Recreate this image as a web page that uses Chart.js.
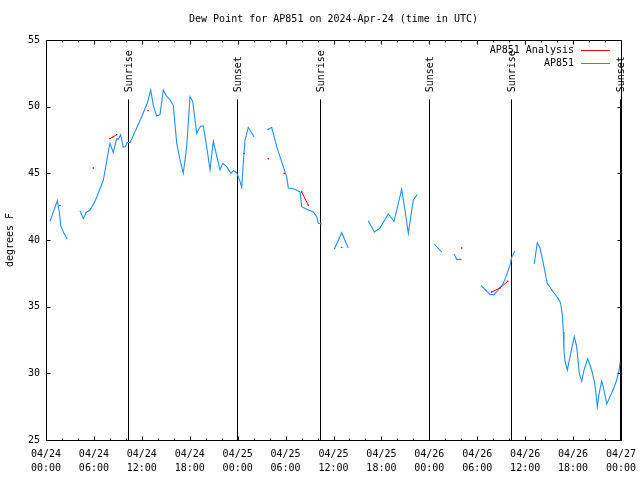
<!DOCTYPE html>
<html lang="en">
<head>
  <meta charset="UTF-8">
  <title>Dew Point for AP851</title>
  <script src="https://cdn.jsdelivr.net/npm/chart.js"></script>
  <style>
    body { margin: 0; background: #fff; }
    canvas { display: block; }
  </style>
</head>
<body>
  <canvas id="dewChart" width="640" height="480"></canvas>
  <script>
    // hours since 04/24 00:00 UTC; null dew = gap in the record
    const obsHours = [0.5, 1.42, 1.67, 1.84, 2.25, 2.67, 3.4,
      4.26, 4.67, 5.01, 5.51, 6.14, 7.18, 7.8, 8.01, 8.43, 8.64, 8.85, 9.05, 9.35, 9.68, 9.93, 10.18, 10.52,
      11.98, 12.68, 13.11, 13.43, 13.86, 14.27, 14.69, 15.03, 15.53, 15.94, 16.37, 16.78, 17.19, 17.62,
      18.03, 18.37, 18.87, 19.07, 19.37, 19.7, 20.12, 20.54, 20.95, 21.38, 21.79, 22.13, 22.63, 23.13,
      23.45, 23.88, 24.29, 24.51, 24.79, 24.92, 25.33, 26.05, 26.9,
      27.71, 28.26, 28.89, 29.71, 30.14, 30.34, 31.18, 31.81, 32.02, 32.65, 33.47, 33.9, 34.1, 34.52, 35.3,
      36.1, 37.03, 37.85, 39.1,
      40.36, 41.11, 41.82, 42.86, 43.58, 44.54, 44.95, 45.37, 45.99, 46.49, 47.5,
      48.62, 49.55, 50.3,
      51.09, 51.43, 52.05, 53.2,
      54.47, 55.6, 56.1, 56.64, 57.26, 57.69, 58.1, 58.31, 58.73, 60.0,
      61.14, 61.32, 61.52, 61.86, 62.27, 62.77, 63.52, 64.15, 64.45, 64.65, 64.78, 64.86, 64.99, 65.28,
      65.7, 66.15, 66.45, 66.78, 67.08, 67.37, 67.83, 68.33, 68.66, 68.87, 69.03, 69.28, 69.58, 69.78,
      70.21, 70.62, 71.04, 71.46, 71.75, 71.88];
    const obsDew = [41.4, 42.95, 42.1, 41.1, 40.5, 40.05, null,
      42.2, 41.6, 42.05, 42.25, 42.9, 44.5, 46.6, 47.25, 46.55, 47.1, 47.6, 47.55, 47.9, 46.95, 47.0, 47.3, 47.3,
      49.25, 50.25, 51.25, 50.1, 49.3, 49.4, 51.25, 50.85, 50.5, 50.1, 47.25, 46.0, 45.0, 47.0,
      50.75, 50.4, 48.0, 48.25, 48.55, 48.55, 47.0, 45.25, 47.4, 46.3, 45.25, 45.75, 45.5, 45.0,
      45.2, 45.05, 44.4, 43.95, 46.5, 47.5, 48.45, 47.75, null,
      48.25, 48.45, 47.0, 45.5, 44.75, 43.9, 43.8, 43.6, 42.5, 42.3, 42.1, 41.75, 41.25, 41.2, null,
      39.3, 40.55, 39.4, null,
      41.45, 40.6, 40.9, 41.95, 41.4, 43.8, 42.25, 40.5, 43.0, 43.4, null,
      39.7, 39.1, null,
      38.95, 38.55, 38.55, null,
      36.6, 35.9, 35.9, 36.25, 36.75, 37.4, 38.1, 38.7, 39.2, null,
      38.2, 39.0, 39.8, 39.4, 38.25, 36.75, 36.1, 35.6, 35.25, 34.4, 33.1, 31.75, 30.9, 30.25,
      31.5, 32.75, 32.0, 30.0, 29.4, 30.25, 31.1, 30.25, 29.4, 28.5, 27.5, 28.55, 29.4, 29.0,
      27.7, 28.25, 28.8, 29.5, 30.2, 30.8];

    const anaHours = [1.75, 2.2, 5.92, 6.4, 8.01, 8.43, 8.85, 9.3, 12.77, 13.2, 24.79, 25.2, 27.84, 28.3,
      29.84, 30.3, 32.02, 32.85, 33.3, 37.03, 37.5, 52.05, 52.5, 55.81, 56.85, 57.81];
    const anaDew = [42.6, null, 45.4, null, 47.6, 47.75, 47.9, null, 49.7, null, 46.5, null, 46.1, null,
      45.0, null, 43.6, 42.6, null, 39.45, null, 39.4, null, 36.1, 36.4, 36.9];

    const sunHours = [10.3, 23.87, 34.35, 47.9, 58.2, 71.9];
    const sunLabels = ['Sunrise', 'Sunset', 'Sunrise', 'Sunset', 'Sunrise', 'Sunset'];

    const xTickLabels = [
      ['04/24', '00:00'], ['04/24', '06:00'], ['04/24', '12:00'], ['04/24', '18:00'],
      ['04/25', '00:00'], ['04/25', '06:00'], ['04/25', '12:00'], ['04/25', '18:00'],
      ['04/26', '00:00'], ['04/26', '06:00'], ['04/26', '12:00'], ['04/26', '18:00'],
      ['04/27', '00:00']
    ];

    const legendNames = ['AP851 Analysis', 'AP851'];
    const BLUE = '#1e90ff';
    const RED = '#ff0000';
    const FONT = '10px "DejaVu Sans Mono", monospace';

    const toPoints = (xs, ys) => xs.map((h, i) => ({ x: h, y: ys[i] }));

    // gnuplot style frame, inward ticks, sun markers, legend and title
    const gnuplotDecor = {
      id: 'gnuplotDecor',
      beforeDatasetsDraw(chart) {
        const { ctx, chartArea: a, scales: { x, y } } = chart;
        ctx.save();
        ctx.strokeStyle = '#000';
        ctx.fillStyle = '#000';
        ctx.lineWidth = 1;
        ctx.font = FONT;
        const top = y.getPixelForValue(50.55);
        sunHours.forEach((h, i) => {
          const px = Math.round(x.getPixelForValue(h)) + 0.5;
          ctx.beginPath();
          ctx.moveTo(px, a.bottom);
          ctx.lineTo(px, top);
          ctx.stroke();
          ctx.save();
          ctx.translate(px + 1, top - 7);
          ctx.rotate(-Math.PI / 2);
          ctx.textAlign = 'left';
          ctx.textBaseline = 'middle';
          ctx.fillText(sunLabels[i], 0, 0);
          ctx.restore();
        });
        ctx.restore();
      },
      afterDraw(chart) {
        const { ctx, chartArea: a, scales: { x, y } } = chart;
        ctx.save();
        ctx.strokeStyle = '#000';
        ctx.lineWidth = 1;
        const L = Math.round(a.left) + 0.5, R = Math.round(a.right) + 0.5;
        const T = Math.round(a.top) + 0.5, B = Math.round(a.bottom) + 0.5;
        ctx.beginPath();
        for (let h = 0; h <= 72; h += 2) {
          const px = Math.round(x.getPixelForValue(h)) + 0.5;
          const len = h % 6 === 0 ? 4 : 2;
          ctx.moveTo(px, B); ctx.lineTo(px, B - len);
          ctx.moveTo(px, T); ctx.lineTo(px, T + len);
        }
        for (let v = 25; v <= 55; v += 5) {
          const py = Math.round(y.getPixelForValue(v)) + 0.5;
          ctx.moveTo(L, py); ctx.lineTo(L + 4, py);
          ctx.moveTo(R, py); ctx.lineTo(R - 4, py);
        }
        ctx.stroke();
        ctx.strokeRect(L, T, R - L, B - T);

        // legend
        ctx.font = FONT;
        ctx.fillStyle = '#000';
        ctx.textAlign = 'right';
        ctx.textBaseline = 'middle';
        [RED, BLUE].forEach((c, i) => {
          const ly = 50 + i * 13;
          ctx.fillText(legendNames[i], 574, ly);
          ctx.strokeStyle = c;
          ctx.beginPath();
          ctx.moveTo(581, ly + 0.5);
          ctx.lineTo(610, ly + 0.5);
          ctx.stroke();
        });

        // title
        ctx.textAlign = 'center';
        ctx.fillText('Dew Point for AP851 on 2024-Apr-24 (time in UTC)', (a.left + a.right) / 2, 19);
        ctx.restore();
      }
    };

    new Chart(document.getElementById('dewChart'), {
      type: 'scatter',
      data: {
        datasets: [{
          label: legendNames[0],
          data: toPoints(anaHours, anaDew),
          showLine: true,
          spanGaps: false,
          borderColor: RED,
          backgroundColor: RED,
          borderWidth: 1,
          pointRadius: 1,
          pointStyle: 'rect',
          pointBorderWidth: 0
        }, {
          label: legendNames[1],
          data: toPoints(obsHours, obsDew),
          showLine: true,
          spanGaps: false,
          borderColor: BLUE,
          borderWidth: 1.1,
          pointRadius: 0
        }]
      },
      options: {
        responsive: false,
        animation: false,
        layout: { padding: { top: 40, right: 19, left: 0, bottom: 0 } },
        plugins: {
          legend: { display: false },
          tooltip: { enabled: false },
          title: { display: false }
        },
        scales: {
          x: {
            type: 'linear',
            min: 0,
            max: 72,
            afterFit: s => { s.height = 40; s.paddingLeft = 0; s.paddingRight = 0; },
            grid: { display: false, drawTicks: false },
            border: { display: false },
            ticks: {
              stepSize: 6,
              autoSkip: false,
              maxRotation: 0,
              padding: 7,
              color: '#000',
              font: { family: '"DejaVu Sans Mono", monospace', size: 10, lineHeight: 1.4 },
              callback: v => xTickLabels[Math.round(v / 6)]
            }
          },
          y: {
            min: 25,
            max: 55,
            afterFit: s => { s.width = 46; s.paddingTop = 0; s.paddingBottom = 0; },
            grid: { display: false, drawTicks: false },
            border: { display: false },
            title: {
              display: true,
              text: 'degrees F',
              color: '#000',
              font: { family: '"DejaVu Sans Mono", monospace', size: 10 }
            },
            ticks: {
              stepSize: 5,
              padding: 6,
              color: '#000',
              font: { family: '"DejaVu Sans Mono", monospace', size: 10 }
            }
          }
        }
      },
      plugins: [gnuplotDecor]
    });
  </script>
</body>
</html>
